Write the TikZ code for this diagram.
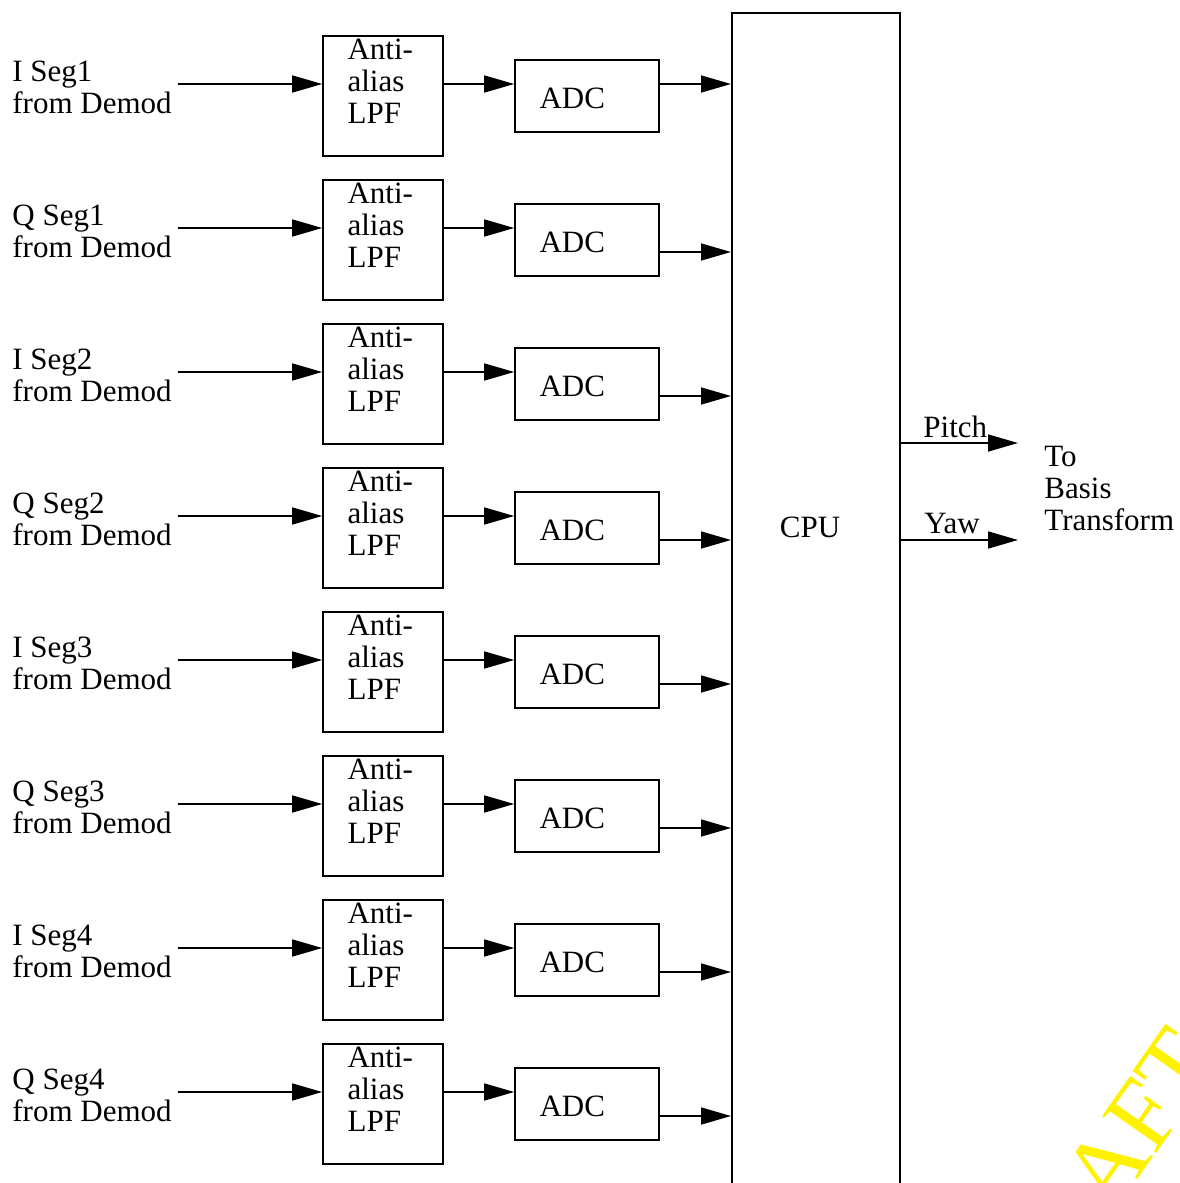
\documentclass[tikz,border=0pt]{standalone}
\usepackage{fontspec}
\setmainfont{Liberation Serif}
\usetikzlibrary{
		arrows.meta,
		positioning
	}
\tikzset{
		>={Triangle[length=15pt,width=8.5pt]},
		blk/.style={draw,line width=0.8pt,inner sep=0pt},
		txt/.style={align=left,inner sep=0pt,font=\fontsize{15.5}{16}\selectfont},
		sig/.style={->,line width=0.8pt}
	}
\begin{document}
\begin{tikzpicture}[x=0.5pt,y=-0.5pt]
\clip (0,0) rectangle (1179,1183);
\node[blk,anchor=north west,minimum width=84pt,minimum height=620pt] (cpu) at (731,12) {};
\node[txt] (cputxt) at (810,527) {CPU};
\foreach \i/\s in {1/I Seg1,2/Q Seg1,3/I Seg2,4/Q Seg2,5/I Seg3,6/Q Seg3,7/I Seg4,8/Q Seg4} {
  \pgfmathsetmacro\y{84+144*(\i-1)}
  \pgfmathsetmacro\oy{\i==1 ? \y : \y+24}
  \node[txt,anchor=north west] (lbl\i) at (12,\y-23) {\s\\from Demod};
  \coordinate (src\i) at (178,\y);
  \node[blk,minimum width=60pt,minimum height=60pt] (lpf\i) at (383,\y+12) {};
  \node[txt,anchor=north west] (lpftxt\i) at ([xshift=12.5pt,yshift=-1.7pt]lpf\i.north west) {Anti-\\alias\\LPF};
  \node[blk,minimum width=72pt,minimum height=36pt] (adc\i) at (587,\y+12) {};
  \node[txt,anchor=west] (adctxt\i) at ([xshift=12.5pt,yshift=-1pt]adc\i.west) {ADC};
  \draw[sig] (src\i) -- (lpf\i.west |- src\i);
  \draw[sig] (lpf\i.east |- src\i) -- (adc\i.west |- src\i);
  \draw[sig] (adc\i.east |- 0,\oy) -- (cpu.west |- 0,\oy);
}
% outputs to the basis transform
\coordinate (pitch) at (1018,443);
\coordinate (yaw) at (1018,540);
\draw[sig] (cpu.east |- pitch) -- (pitch);
\draw[sig] (cpu.east |- yaw) -- (yaw);
\node[txt,anchor=base west] (pitchtxt) at (923,437) {Pitch};
\node[txt,anchor=base west] (yawtxt) at (924,533) {Yaw};
\node[txt,anchor=north west] (basis) at (1044,446) {To\\Basis\\Transform};
\node[text=yellow,rotate=55,font=\fontsize{50}{50}\selectfont] (draft) at (1100,1176) {DRAFT};
\end{tikzpicture}
\end{document}
